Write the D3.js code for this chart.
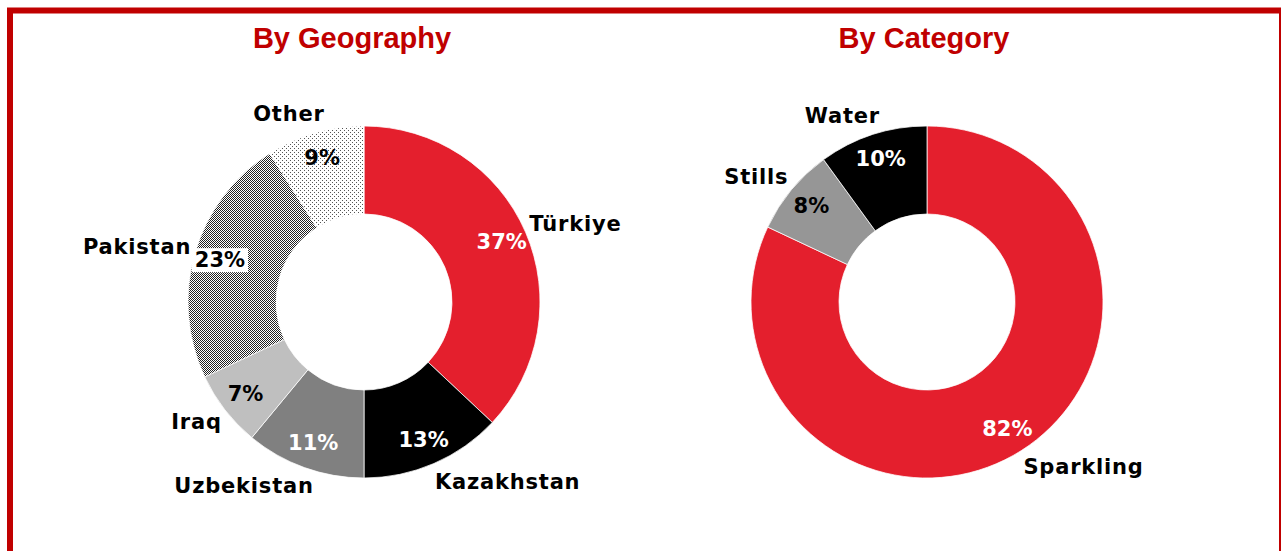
<!DOCTYPE html>
<html>
<head>
<meta charset="utf-8">
<script src="https://cdn.jsdelivr.net/npm/d3@7"></script>
<style>
  html, body { margin: 0; padding: 0; background: #fff; }
  svg { display: block; }
</style>
</head>
<body>
<svg id="chart" width="1281" height="551"></svg>
<script>
// ---- Data ----
const geoNames  = ["Türkiye", "Kazakhstan", "Uzbekistan", "Iraq", "Pakistan", "Other"];
const geoValues = [37, 13, 11, 7, 23, 9];
const geoFills  = ["#E41F2D", "#000000", "#808080", "#BFBFBF", "url(#checker)", "url(#dots)"];
const geoLabelColors = ["#fff", "#fff", "#fff", "#000", "#000", "#000"];

const catNames  = ["Sparkling", "Stills", "Water"];
const catValues = [82, 8, 10];
const catFills  = ["#E41F2D", "#969696", "#000000"];
const catLabelColors = ["#fff", "#000", "#fff"];

const titles = ["By Geography", "By Category"];

// ---- Layout ----
const svg = d3.select("#chart");
const outerR = 176, innerR = 88;
const pctR = 150, nameRx = 180, nameRy = 196;
const centers = [{x: 364, y: 302}, {x: 927, y: 302}];
const labelFont = "'DejaVu Sans', sans-serif";
const labelSize = 21;

// patterns
const defs = svg.append("defs");
const pc = defs.append("pattern").attr("id", "checker").attr("patternUnits", "userSpaceOnUse")
  .attr("width", 2).attr("height", 2);
pc.append("rect").attr("width", 2).attr("height", 2).attr("fill", "#ffffff");
pc.append("rect").attr("x", 0).attr("y", 0).attr("width", 1).attr("height", 1).attr("fill", "#222");
pc.append("rect").attr("x", 1).attr("y", 1).attr("width", 1).attr("height", 1).attr("fill", "#222");
const pd = defs.append("pattern").attr("id", "dots").attr("patternUnits", "userSpaceOnUse")
  .attr("width", 4).attr("height", 4);
pd.append("rect").attr("width", 4).attr("height", 4).attr("fill", "#ffffff");
pd.append("rect").attr("x", 0).attr("y", 0).attr("width", 1).attr("height", 1).attr("fill", "#555");
pd.append("rect").attr("x", 2).attr("y", 2).attr("width", 1).attr("height", 1).attr("fill", "#555");

// border
svg.append("rect").attr("x", 10).attr("y", 10.5).attr("width", 1272).attr("height", 600)
  .attr("fill", "none").attr("stroke", "#C00000").attr("stroke-width", 6);

const pie = d3.pie().sort(null).value(d => d);
const arc = d3.arc().innerRadius(innerR).outerRadius(outerR);
const pctArc = d3.arc().innerRadius(pctR).outerRadius(pctR);

function drawDonut(i, names, values, fills, pctColors, boxed) {
  const c = centers[i];
  const g = svg.append("g").attr("transform", `translate(${c.x},${c.y})`);
  const arcs = pie(values);

  g.selectAll("path.slice").data(arcs).join("path")
    .attr("class", "slice")
    .attr("d", arc)
    .attr("fill", (d, j) => fills[j])
    .attr("stroke", "#fff").attr("stroke-width", 0.75);

  // percentage labels
  arcs.forEach((d, j) => {
    const [x, y] = pctArc.centroid(d);
    const lg = g.append("g");
    const t = lg.append("text")
      .attr("x", x).attr("y", y)
      .attr("text-anchor", "middle").attr("dominant-baseline", "central")
      .attr("font-family", labelFont).attr("font-weight", 700).attr("font-size", labelSize)
      .attr("fill", pctColors[j])
      .text(values[j] + "%");
    if (boxed[j]) {
      const b = t.node().getBBox();
      lg.insert("rect", "text")
        .attr("x", b.x - 3).attr("y", b.y)
        .attr("width", b.width + 6).attr("height", b.height)
        .attr("fill", "#fff");
    }
  });

  // category labels (outside, anchor blends with angle)
  arcs.forEach((d, j) => {
    const a = (d.startAngle + d.endAngle) / 2;
    const px = nameRx * Math.sin(a);
    const py = -nameRy * Math.cos(a);
    const t = g.append("text")
      .attr("y", py)
      .attr("dominant-baseline", "central")
      .attr("font-family", labelFont).attr("font-weight", 700).attr("font-size", labelSize)
      .attr("letter-spacing", 0.8)
      .attr("fill", "#000")
      .text(names[j]);
    const w = t.node().getComputedTextLength();
    const s = Math.max(-1, Math.min(1, Math.sin(a) * 2.5));
    t.attr("x", px - w * (1 - s) / 2);
  });

  svg.append("text")
    .attr("x", c.x - 12 + (i === 1 ? 9 : 0)).attr("y", 48)
    .attr("text-anchor", "middle")
    .attr("font-family", "'Liberation Sans', Arial, sans-serif")
    .attr("font-weight", 700).attr("font-size", 29)
    .attr("fill", "#C00000")
    .text(titles[i]);
}

drawDonut(0, geoNames, geoValues, geoFills, geoLabelColors, [false, false, false, false, true, false]);
drawDonut(1, catNames, catValues, catFills, catLabelColors, [false, false, false]);
</script>
</body>
</html>
